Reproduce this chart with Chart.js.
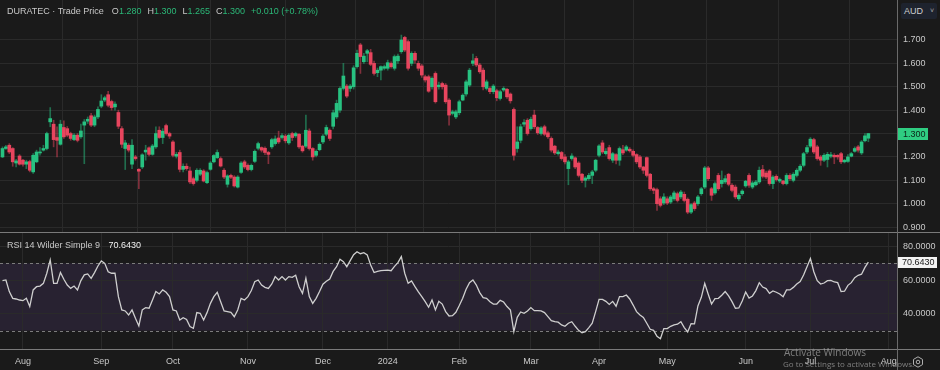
<!DOCTYPE html>
<html>
<head>
<meta charset="utf-8">
<title>DURATEC Trade Price</title>
<script src="https://cdn.jsdelivr.net/npm/chart.js@4.4.1/dist/chart.umd.min.js"></script>
<style>
  body { margin: 0; background: #1a1a1a; font-family: "Liberation Sans", Arial, sans-serif; }
  #wrap { position: relative; width: 940px; height: 370px; overflow: hidden; background: #1a1a1a; }
  #priceBox { position: absolute; left: 0; top: 0; width: 940px; height: 232px; }
  #rsiBox { position: absolute; left: 0; top: 233px; width: 940px; height: 137px; }
  .hline { position: absolute; left: 0; width: 940px; height: 1px; background: #7a7a7a; z-index: 2; }
  .vline { position: absolute; left: 897px; top: 0; width: 1px; height: 370px; background: #6a6a6a; z-index: 2; }
  #legend { position: absolute; left: 7px; top: 6px; font-size: 9px; color: #c8c8c8; z-index: 3; white-space: nowrap; }
  #legend .v { color: #2bb777; }
  #legend .k { margin-left: 6px; }
  #rsiLegend { position: absolute; left: 7px; top: 240px; font-size: 9px; color: #c8c8c8; z-index: 3; white-space: nowrap; }
  #rsiLegend b { font-weight: normal; color: #f0f0f0; margin-left: 6px; }
  #aud { position: absolute; left: 901px; top: 3px; width: 36px; height: 16px; background: #1e232e; border-radius: 2px;
         color: #d0d0d0; font-size: 9px; line-height: 16px; z-index: 3; }
  #aud span { position: absolute; left: 3px; }
  #aud i { position: absolute; left: 29px; font-style: normal; font-size: 7px; color: #aaa; }
  #gear { position: absolute; left: 912px; top: 356px; z-index: 3; }
  #wm1 { position: absolute; left: 784px; top: 345px; font-family: "Open Sans", sans-serif; font-size: 10px; color: rgba(160,160,160,0.75); z-index: 3; white-space: nowrap; }
  #wm2 { position: absolute; left: 783px; top: 358px; font-family: "Open Sans", sans-serif; font-size: 8px; color: rgba(160,160,160,0.75); z-index: 3; white-space: nowrap; }
</style>
</head>
<body>
<div id="wrap">
  <div id="priceBox"><canvas id="priceChart"></canvas></div>
  <div id="rsiBox"><canvas id="rsiChart"></canvas></div>
  <div class="hline" style="top:232px"></div>
  <div class="hline" style="top:349px"></div>
  <div class="vline"></div>
  <div id="legend"></div>
  <div id="rsiLegend"></div>
  <div id="aud"><span>AUD</span><i>&#709;</i></div>
  <svg id="gear" width="12" height="12" viewBox="0 0 12 12">
    <polygon points="6,0.8 10.5,3.4 10.5,8.6 6,11.2 1.5,8.6 1.5,3.4" fill="none" stroke="#b0b0b0" stroke-width="1"/>
    <circle cx="6" cy="6" r="1.8" fill="none" stroke="#b0b0b0" stroke-width="1"/>
  </svg>
  <div id="wm1">Activate Windows</div>
  <div id="wm2">Go to Settings to activate Windows.</div>
</div>
<script>
const monthIdx = [6, 29, 50, 72, 94, 113, 134, 155, 175, 195, 218, 237, 260];
const monthLabels = ['Aug', 'Sep', 'Oct', 'Nov', 'Dec', '2024', 'Feb', 'Mar', 'Apr', 'May', 'Jun', 'Jul', 'Aug'];
const priceTicks = [0.9, 1.0, 1.1, 1.2, 1.3, 1.4, 1.5, 1.6, 1.7];
const rsiTicks = [40, 60, 80];
const bandHigh = 70;
const bandLow = 30;

const opens = [
  1.200,1.236,1.250,1.236,1.174,1.204,1.186,1.169,1.180,1.136,
  1.179,1.217,1.229,1.236,1.350,1.340,1.283,1.254,1.326,1.321,
  1.300,1.274,1.293,1.286,1.336,1.353,1.376,1.336,1.371,1.417,
  1.443,1.466,1.437,1.414,1.390,1.321,1.236,1.250,1.169,1.200,
  1.147,1.157,1.221,1.239,1.211,1.243,1.314,1.283,1.334,1.300,
  1.264,1.203,1.219,1.147,1.160,1.140,1.107,1.100,1.126,1.140,
  1.090,1.147,1.179,1.197,1.193,1.143,1.083,1.121,1.114,1.071,
  1.134,1.179,1.164,1.146,1.181,1.237,1.240,1.237,1.219,1.243,
  1.257,1.281,1.283,1.289,1.260,1.300,1.290,1.297,1.246,1.246,
  1.311,1.236,1.207,1.231,1.264,1.297,1.314,1.331,1.371,1.400,
  1.493,1.503,1.493,1.500,1.586,1.679,1.607,1.643,1.646,1.600,
  1.560,1.571,1.579,1.579,1.600,1.579,1.611,1.650,1.711,1.693,
  1.600,1.643,1.600,1.589,1.543,1.543,1.500,1.557,1.500,1.514,
  1.507,1.443,1.386,1.371,1.389,1.443,1.469,1.507,1.600,1.621,
  1.593,1.571,1.493,1.493,1.479,1.483,1.450,1.486,1.489,1.469,
  1.403,1.236,1.271,1.340,1.357,1.321,1.379,1.326,1.300,1.329,
  1.303,1.279,1.246,1.214,1.219,1.200,1.150,1.193,1.196,1.174,
  1.126,1.100,1.107,1.121,1.143,1.207,1.260,1.214,1.240,1.186,
  1.210,1.186,1.231,1.229,1.233,1.224,1.210,1.200,1.157,1.197,
  1.126,1.064,1.060,1.021,1.003,1.021,1.007,1.021,1.043,1.029,
  1.040,1.019,0.964,1.003,1.000,1.043,1.071,1.153,1.064,1.046,
  1.121,1.086,1.093,1.126,1.079,1.071,1.021,1.043,1.076,1.121,
  1.071,1.081,1.093,1.146,1.131,1.140,1.086,1.117,1.097,1.097,
  1.086,1.121,1.100,1.121,1.143,1.164,1.221,1.246,1.274,1.243,
  1.200,1.186,1.189,1.203,1.207,1.207,1.214,1.179,1.181,1.203,
  1.224,1.243,1.217,1.269,1.280
];
const highs = [
  1.243,1.250,1.257,1.240,1.190,1.210,1.190,1.186,1.186,1.214,
  1.229,1.240,1.250,1.306,1.411,1.357,1.329,1.357,1.354,1.330,
  1.306,1.300,1.300,1.340,1.360,1.371,1.386,1.379,1.414,1.466,
  1.460,1.481,1.443,1.436,1.400,1.330,1.271,1.257,1.274,1.207,
  1.150,1.214,1.250,1.243,1.254,1.329,1.329,1.321,1.340,1.306,
  1.270,1.220,1.229,1.171,1.171,1.157,1.114,1.150,1.150,1.146,
  1.140,1.180,1.210,1.230,1.200,1.150,1.124,1.127,1.120,1.120,
  1.180,1.186,1.170,1.170,1.230,1.264,1.243,1.243,1.224,1.280,
  1.290,1.310,1.300,1.296,1.300,1.306,1.306,1.300,1.250,1.379,
  1.320,1.240,1.230,1.260,1.296,1.336,1.320,1.400,1.443,1.500,
  1.600,1.510,1.510,1.590,1.657,1.686,1.643,1.660,1.660,1.610,
  1.580,1.590,1.593,1.614,1.607,1.636,1.640,1.721,1.716,1.700,
  1.650,1.650,1.610,1.596,1.550,1.550,1.543,1.564,1.520,1.520,
  1.514,1.450,1.400,1.400,1.443,1.470,1.529,1.579,1.640,1.630,
  1.600,1.580,1.529,1.500,1.510,1.490,1.486,1.500,1.493,1.474,
  1.410,1.329,1.340,1.360,1.364,1.370,1.400,1.330,1.330,1.336,
  1.310,1.286,1.250,1.229,1.224,1.210,1.186,1.214,1.200,1.180,
  1.130,1.116,1.130,1.143,1.190,1.253,1.270,1.236,1.250,1.220,
  1.214,1.243,1.250,1.250,1.240,1.230,1.214,1.207,1.160,1.200,
  1.130,1.070,1.067,1.030,1.043,1.030,1.036,1.054,1.050,1.057,
  1.050,1.025,1.000,1.010,1.036,1.070,1.160,1.160,1.070,1.093,
  1.130,1.140,1.120,1.130,1.086,1.080,1.043,1.060,1.100,1.129,
  1.096,1.100,1.157,1.164,1.140,1.146,1.120,1.124,1.110,1.100,
  1.129,1.129,1.133,1.150,1.167,1.220,1.250,1.283,1.280,1.250,
  1.207,1.214,1.220,1.220,1.214,1.210,1.220,1.190,1.210,1.220,
  1.243,1.250,1.270,1.300,1.300
];
const lows = [
  1.197,1.232,1.214,1.160,1.157,1.165,1.160,1.150,1.136,1.129,
  1.175,1.207,1.225,1.230,1.329,1.243,1.200,1.250,1.279,1.286,
  1.271,1.270,1.264,1.279,1.171,1.343,1.329,1.329,1.364,1.410,
  1.436,1.414,1.400,1.400,1.321,1.240,1.146,1.221,1.150,1.186,
  1.064,1.150,1.186,1.204,1.207,1.236,1.279,1.257,1.293,1.279,
  1.200,1.195,1.136,1.136,1.143,1.086,1.079,1.093,1.120,1.093,
  1.086,1.143,1.174,1.193,1.157,1.107,1.071,1.107,1.071,1.067,
  1.130,1.150,1.140,1.140,1.176,1.230,1.221,1.210,1.171,1.236,
  1.250,1.257,1.276,1.260,1.254,1.270,1.283,1.236,1.220,1.240,
  1.229,1.186,1.200,1.226,1.257,1.290,1.270,1.320,1.364,1.390,
  1.486,1.453,1.480,1.490,1.580,1.557,1.600,1.607,1.590,1.550,
  1.543,1.529,1.572,1.571,1.580,1.571,1.600,1.643,1.650,1.571,
  1.590,1.600,1.570,1.540,1.520,1.476,1.490,1.430,1.490,1.490,
  1.429,1.336,1.379,1.364,1.380,1.440,1.460,1.500,1.590,1.586,
  1.557,1.486,1.486,1.470,1.470,1.440,1.443,1.480,1.450,1.430,
  1.186,1.220,1.260,1.330,1.293,1.314,1.320,1.296,1.293,1.290,
  1.279,1.221,1.210,1.207,1.186,1.170,1.081,1.186,1.150,1.114,
  1.090,1.071,1.100,1.086,1.136,1.200,1.214,1.207,1.186,1.176,
  1.170,1.164,1.210,1.224,1.220,1.200,1.171,1.150,1.129,1.114,
  1.057,1.043,0.971,0.986,0.996,0.996,1.000,1.014,1.007,1.021,
  1.007,0.957,0.957,0.971,0.993,1.036,1.064,1.100,1.014,1.040,
  1.057,1.071,1.086,1.076,1.050,1.021,1.014,1.036,1.070,1.070,
  1.064,1.076,1.086,1.110,1.107,1.079,1.064,1.096,1.090,1.080,
  1.080,1.100,1.093,1.114,1.136,1.157,1.214,1.240,1.214,1.186,
  1.164,1.180,1.157,1.196,1.171,1.190,1.171,1.174,1.176,1.200,
  1.220,1.220,1.210,1.264,1.265
];
const closes = [
  1.236,1.243,1.221,1.179,1.183,1.169,1.169,1.179,1.143,1.207,
  1.221,1.221,1.236,1.300,1.364,1.274,1.271,1.340,1.286,1.293,
  1.279,1.293,1.271,1.311,1.350,1.361,1.336,1.371,1.403,1.439,
  1.453,1.421,1.411,1.426,1.331,1.254,1.260,1.229,1.250,1.193,
  1.139,1.209,1.229,1.211,1.247,1.300,1.283,1.310,1.300,1.289,
  1.207,1.211,1.147,1.160,1.150,1.093,1.086,1.143,1.143,1.097,
  1.133,1.174,1.206,1.219,1.161,1.114,1.119,1.113,1.076,1.114,
  1.174,1.157,1.146,1.164,1.224,1.257,1.229,1.219,1.211,1.274,
  1.277,1.264,1.291,1.269,1.293,1.283,1.300,1.243,1.226,1.314,
  1.236,1.200,1.224,1.254,1.289,1.326,1.279,1.389,1.429,1.493,
  1.546,1.460,1.503,1.581,1.643,1.629,1.631,1.654,1.596,1.557,
  1.571,1.586,1.586,1.603,1.586,1.629,1.631,1.700,1.657,1.579,
  1.643,1.614,1.579,1.550,1.529,1.481,1.536,1.436,1.507,1.500,
  1.436,1.379,1.393,1.393,1.436,1.464,1.521,1.571,1.611,1.593,
  1.564,1.500,1.521,1.479,1.503,1.453,1.479,1.493,1.457,1.440,
  1.207,1.264,1.329,1.347,1.300,1.361,1.329,1.303,1.324,1.297,
  1.286,1.229,1.217,1.221,1.193,1.179,1.179,1.204,1.157,1.121,
  1.100,1.110,1.121,1.136,1.186,1.247,1.221,1.224,1.193,1.214,
  1.186,1.236,1.217,1.243,1.226,1.207,1.179,1.157,1.143,1.121,
  1.064,1.057,1.000,0.993,1.029,1.003,1.029,1.046,1.014,1.050,
  1.014,0.964,0.996,0.979,1.029,1.064,1.153,1.107,1.036,1.086,
  1.064,1.100,1.107,1.083,1.057,1.029,1.036,1.054,1.096,1.079,
  1.089,1.093,1.143,1.117,1.114,1.086,1.114,1.103,1.104,1.086,
  1.121,1.107,1.126,1.143,1.160,1.214,1.240,1.276,1.221,1.193,
  1.186,1.207,1.211,1.209,1.200,1.200,1.179,1.186,1.200,1.214,
  1.236,1.229,1.264,1.290,1.300
];
const rsiValues = [
  59.7,60.1,53.2,49.2,48.8,48.2,47.8,49.2,44.3,54.2,
  56.1,56.5,58.1,64.1,72.0,58.1,58.1,64.5,60.5,57.1,
  55.1,56.5,54.2,59.7,63.1,63.7,61.1,64.5,68.4,71.4,
  70.0,65.0,64.1,64.1,50.2,42.3,41.7,39.3,42.3,37.3,
  32.8,42.3,43.7,43.3,48.2,53.2,51.8,54.2,52.8,50.2,
  42.3,41.7,36.3,37.7,36.7,32.4,31.4,40.7,40.3,36.3,
  40.7,46.2,50.2,52.8,47.2,41.7,41.3,40.9,38.3,42.3,
  49.2,48.2,50.2,53.8,59.1,60.1,57.1,55.7,55.1,57.7,
  62.1,60.1,62.1,60.1,62.1,61.7,62.9,56.1,52.2,61.1,
  50.2,46.2,49.2,53.2,57.6,59.3,60.7,65.2,68.0,72.4,
  71.0,68.0,71.6,75.1,76.9,75.7,76.3,75.0,69.0,64.5,
  65.2,65.6,65.8,66.0,65.6,68.2,70.4,74.0,64.1,58.1,
  59.5,56.1,53.0,50.2,47.2,43.9,48.2,42.3,47.4,45.8,
  41.3,38.7,38.9,40.9,44.9,49.2,54.6,58.5,60.1,57.1,
  52.6,49.6,49.2,47.2,45.8,45.8,48.0,47.0,44.3,42.3,
  29.4,37.9,41.1,40.3,41.7,43.7,41.9,41.9,41.7,40.7,
  38.3,35.9,35.3,35.0,33.4,32.6,34.4,35.3,32.6,30.2,
  28.8,29.4,31.8,34.4,41.3,48.6,48.6,47.4,45.6,47.4,
  44.5,50.2,50.2,51.2,48.8,45.2,41.3,39.3,37.9,34.4,
  30.8,30.2,26.6,25.2,31.2,31.2,32.6,33.4,33.8,35.3,
  31.8,29.2,34.2,34.0,44.7,49.8,58.1,51.8,45.8,49.0,
  49.2,51.0,53.2,50.6,47.2,43.3,43.5,47.6,53.0,49.4,
  50.6,53.8,58.5,55.9,55.0,52.2,53.6,52.8,51.8,50.2,
  54.2,54.2,55.7,57.7,59.1,63.1,68.0,72.8,65.0,59.7,
  57.7,58.3,59.7,59.9,58.9,58.5,53.2,53.4,56.9,58.5,
  61.5,62.9,63.5,67.6,70.643
];

const upColor = '#27c281';
const downColor = '#e8455e';
const upWick = 'rgba(39,194,129,0.5)';
const downWick = 'rgba(232,69,94,0.5)';
const gridColor = '#2a2a2a';
const xMin = -0.73;
const xMax = 262.4;

Chart.defaults.font.family = '"Liberation Sans", Arial, sans-serif';
Chart.defaults.font.size = 9;
Chart.defaults.color = '#c8c8c8';

const last = closes.length - 1;
const change = closes[last] - closes[last - 1];
document.getElementById('legend').innerHTML =
  'DURATEC &middot; Trade Price' +
  '<span class="k" style="margin-left:8px">O</span><span class="v">' + opens[last].toFixed(3) + '</span>' +
  '<span class="k">H</span><span class="v">' + highs[last].toFixed(3) + '</span>' +
  '<span class="k">L</span><span class="v">' + lows[last].toFixed(3) + '</span>' +
  '<span class="k">C</span><span class="v">' + closes[last].toFixed(3) + '</span>' +
  '<span class="v" style="margin-left:6px">+' + change.toFixed(3) + ' (+' + (change / closes[last - 1] * 100).toFixed(2) + '%)</span>';
document.getElementById('rsiLegend').innerHTML =
  'RSI 14 Wilder Simple 9 <b>' + rsiValues[last].toFixed(4) + '</b>';

function isUp(i) {
  return closes[i] >= opens[i];
}

function monthTicks(scale) {
  scale.ticks = monthIdx.map(v => ({ value: v }));
}

// no label padding, so the plot fills the whole panel
function noPad(scale) {
  scale.paddingTop = 0;
  scale.paddingBottom = 0;
  scale.paddingLeft = 0;
  scale.paddingRight = 0;
}

const priceTag = {
  id: 'priceTag',
  afterDraw(chart) {
    const c = chart.ctx;
    const y = Math.round(chart.scales.y.getPixelForValue(closes[last]));
    const x = chart.chartArea.right;
    c.save();
    c.fillStyle = '#2fcd82';
    c.fillRect(x, y - 6, 31, 12);
    c.fillStyle = '#0c2418';
    c.font = '9px "Liberation Sans"';
    c.textBaseline = 'middle';
    c.fillText(closes[last].toFixed(3), x + 6, y + 0.5);
    c.restore();
  }
};

const rsiBand = {
  id: 'rsiBand',
  beforeDraw(chart) {
    const c = chart.ctx, a = chart.chartArea, y = chart.scales.y;
    const top = y.getPixelForValue(bandHigh), bot = y.getPixelForValue(bandLow);
    c.save();
    c.fillStyle = '#282231';
    c.fillRect(a.left, top, a.right - a.left, bot - top);
    c.restore();
  },
  beforeDatasetsDraw(chart) {
    const c = chart.ctx, a = chart.chartArea, y = chart.scales.y;
    c.save();
    c.strokeStyle = '#7c7c7c';
    c.lineWidth = 1;
    c.setLineDash([3, 3]);
    [bandHigh, bandLow].forEach(v => {
      const py = Math.round(y.getPixelForValue(v)) + 0.5;
      c.beginPath();
      c.moveTo(a.left, py);
      c.lineTo(a.right, py);
      c.stroke();
    });
    c.restore();
  },
  afterDraw(chart) {
    const c = chart.ctx;
    const y = Math.round(chart.scales.y.getPixelForValue(rsiValues[last]));
    const x = chart.chartArea.right;
    c.save();
    c.fillStyle = '#f2f2f2';
    c.fillRect(x, y - 5, 40, 11);
    c.fillStyle = '#1a1a1a';
    c.font = '9px "Liberation Sans"';
    c.textBaseline = 'middle';
    c.fillText(rsiValues[last].toFixed(4), x + 5, y + 0.5);
    c.restore();
  }
};

new Chart(document.getElementById('priceChart'), {
  type: 'bar',
  data: {
    datasets: [
      {
        label: 'wick',
        data: lows.map((l, i) => ({ x: i, y: [l, highs[i]] })),
        backgroundColor: lows.map((l, i) => isUp(i) ? upWick : downWick),
        barThickness: 1,
        grouped: false,
        order: 1
      },
      {
        label: 'body',
        data: opens.map((o, i) => ({ x: i, y: [o, closes[i]] })),
        backgroundColor: opens.map((o, i) => isUp(i) ? upColor : downColor),
        barThickness: 3,
        minBarLength: 1,
        grouped: false,
        order: 0
      }
    ]
  },
  options: {
    responsive: true,
    maintainAspectRatio: false,
    animation: false,
    layout: { padding: 0, autoPadding: false },
    plugins: { legend: { display: false }, tooltip: { enabled: false } },
    scales: {
      x: {
        type: 'linear',
        min: xMin,
        max: xMax,
        offset: false,
        afterBuildTicks: monthTicks,
        afterFit: s => { noPad(s); s.height = 0; },
        ticks: { display: false },
        grid: { color: gridColor, drawTicks: false },
        border: { display: false }
      },
      y: {
        position: 'right',
        min: 0.879,
        max: 1.871,
        afterBuildTicks: s => { s.ticks = priceTicks.map(v => ({ value: v })); },
        afterFit: s => { noPad(s); s.width = 43; },
        ticks: { padding: 6, callback: v => v.toFixed(3) },
        grid: { color: gridColor, drawTicks: false },
        border: { display: false }
      }
    }
  },
  plugins: [priceTag]
});

new Chart(document.getElementById('rsiChart'), {
  type: 'line',
  data: {
    datasets: [{
      label: 'RSI',
      data: rsiValues.map((v, i) => ({ x: i, y: v })),
      borderColor: '#cfcfcf',
      borderWidth: 1.3,
      pointRadius: 0,
      tension: 0
    }]
  },
  options: {
    responsive: true,
    maintainAspectRatio: false,
    animation: false,
    layout: { padding: 0, autoPadding: false },
    plugins: { legend: { display: false }, tooltip: { enabled: false } },
    scales: {
      x: {
        type: 'linear',
        min: xMin,
        max: xMax,
        offset: false,
        afterBuildTicks: monthTicks,
        afterFit: s => { noPad(s); s.height = 21; },
        ticks: { padding: 7, autoSkip: false, maxRotation: 0, callback: (v, i) => monthLabels[i] },
        grid: { color: gridColor, drawTicks: false },
        border: { display: false }
      },
      y: {
        position: 'right',
        min: 19.1,
        max: 88,
        afterBuildTicks: s => { s.ticks = rsiTicks.map(v => ({ value: v })); },
        afterFit: s => { noPad(s); s.width = 43; },
        ticks: { padding: 6, callback: v => v.toFixed(4) },
        grid: { color: gridColor, drawTicks: false },
        border: { display: false }
      }
    }
  },
  plugins: [rsiBand]
});
</script>
</body>
</html>
